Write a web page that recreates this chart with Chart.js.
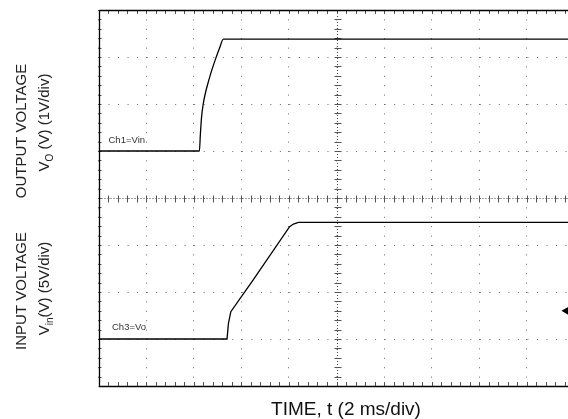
<!DOCTYPE html>
<html><head><meta charset="utf-8">
<script src="https://cdn.jsdelivr.net/npm/chart.js@4.4.1/dist/chart.umd.min.js"></script>
<style>html,body{margin:0;padding:0;background:#fff;overflow:hidden;width:568px;height:419px}canvas{display:block}</style>
</head><body><canvas id="c" width="580" height="419"></canvas>
<script>
// ---- data (read from the scope capture) ----
// time axis in ms: 2 ms/div, 10 divisions
const timeMin = 0, timeMax = 20, timeStep = 2;
// grid: 8 vertical divisions
const divMin = 0, divMax = 8;
// upper trace (Ch1, 1 V/div, ground at division 5)
const ch1Time  = [0, 4.24, 4.28, 4.33, 4.40, 4.50, 4.62, 4.76, 4.92, 5.08, 5.25, 20];
const ch1Volts = [0, 0,    0.35, 0.72, 1.00, 1.25, 1.48, 1.72, 1.96, 2.18, 2.38, 2.38];
// lower trace (Ch3, 5 V/div, ground at division 1)
const ch3Time  = [0, 5.40, 5.46, 5.56, 6.50, 8.03, 8.19, 8.40, 20];
const ch3Volts = [0, 0,    1.67, 2.90, 6.30, 11.95, 12.23, 12.41, 12.41];
// trigger level marker (Ch3)
const trigTime = [19.64];
const trigVolts = [3.0];
// text
const ch1Label = 'Ch1=Vin';
const ch3Label = 'Ch3=Vo';
const xTitle = 'TIME, t (2 ms/div)';
const upperTitle1 = [['OUTPUT VOLTAGE', false]];
const upperTitle2 = [['V', false], ['O', true], [' (V) (1V/div)', false]];
const lowerTitle1 = [['INPUT VOLTAGE', false]];
const lowerTitle2 = [['V', false], ['in', true], ['(V) (5V/div)', false]];

const FONT = '"Liberation Sans", Arial, sans-serif';

function toXY(xs, ys){ return xs.map((v,i)=>({x:v, y:ys[i]})); }

function drawRot(ctx, parts, xBase, yCenter, size, color){
  ctx.save();
  ctx.translate(xBase, yCenter);
  ctx.rotate(-Math.PI/2);
  ctx.fillStyle = color;
  ctx.textAlign = 'left'; ctx.textBaseline = 'alphabetic';
  const fMain = size + 'px ' + FONT, fSub = Math.round(size*0.68) + 'px ' + FONT;
  let total = 0; const ws = [];
  parts.forEach(p => { ctx.font = p[1] ? fSub : fMain; const w = ctx.measureText(p[0]).width; ws.push(w); total += w; });
  let u = -total/2;
  parts.forEach((p,i) => { ctx.font = p[1] ? fSub : fMain; ctx.fillText(p[0], u, p[1] ? size*0.28 : 0); u += ws[i]; });
  ctx.restore();
}

const scopePlugin = {
  id: 'scope',
  beforeDatasetsDraw(chart){
    const {ctx, chartArea:a, scales} = chart;
    const x = scales.x, y = scales.y;
    const px = v => Math.round(v) + 0.5;
    ctx.save();
    const cx = px(x.getPixelForValue((timeMin+timeMax)/2));
    const cy = px(y.getPixelForValue((divMin+divMax)/2));
    // dense dotted centre lines
    ctx.lineWidth = 1; ctx.strokeStyle = '#444';
    ctx.setLineDash([1,2]);
    ctx.beginPath();
    ctx.moveTo(cx, a.top); ctx.lineTo(cx, a.bottom);
    ctx.moveTo(a.left, cy); ctx.lineTo(a.right, cy);
    ctx.stroke();
    ctx.setLineDash([]);
    // minor ticks (5 per division)
    ctx.strokeStyle = '#555';
    ctx.beginPath();
    for (let i = 0; i <= 50; i++){
      const xx = px(x.getPixelForValue(timeMin + i*timeStep/5));
      ctx.moveTo(xx, cy-3); ctx.lineTo(xx, cy+4);
      ctx.moveTo(xx, a.top); ctx.lineTo(xx, a.top+4);
      ctx.moveTo(xx, a.bottom-4); ctx.lineTo(xx, a.bottom);
    }
    for (let i = 0; i <= 40; i++){
      const yy = px(y.getPixelForValue(divMin + i*0.2));
      ctx.moveTo(cx-3, yy); ctx.lineTo(cx+4, yy);
      ctx.moveTo(a.left, yy); ctx.lineTo(a.left+3, yy);
    }
    ctx.stroke();
    // frame
    ctx.strokeStyle = '#000'; ctx.lineWidth = 1.3;
    ctx.beginPath();
    ctx.moveTo(px(a.left), px(a.top)); ctx.lineTo(a.right, px(a.top));
    ctx.moveTo(px(a.left), px(a.top)); ctx.lineTo(px(a.left), px(a.bottom)); ctx.lineTo(a.right, px(a.bottom));
    ctx.stroke();
    // channel labels
    ctx.fillStyle = '#333'; ctx.font = '9.5px ' + FONT; ctx.textAlign = 'left'; ctx.textBaseline = 'alphabetic';
    ctx.fillText(ch1Label, a.left + 10, y.getPixelForValue(5) - 8.5);
    ctx.fillText(ch3Label, a.left + 13.5, y.getPixelForValue(1) - 9);
    ctx.restore();
  },
  afterDraw(chart){
    const {ctx} = chart;
    drawRot(ctx, upperTitle1, 26, 131, 15, '#222');
    drawRot(ctx, upperTitle2, 48.5, 122.5, 15, '#222');
    drawRot(ctx, lowerTitle1, 26, 291, 15, '#222');
    drawRot(ctx, lowerTitle2, 48.5, 288.5, 15, '#222');
    ctx.save();
    ctx.fillStyle = '#111'; ctx.font = '19px ' + FONT; ctx.textAlign = 'center'; ctx.textBaseline = 'alphabetic';
    ctx.fillText(xTitle, 346, 414.5);
    ctx.restore();
  }
};

new Chart(document.getElementById('c'), {
  type: 'line',
  data: {
    datasets: [
      { label: 'Ch1', data: toXY(ch1Time, ch1Volts), yAxisID: 'y1', borderColor: '#000', borderWidth: 1.3,
        pointRadius: 0, cubicInterpolationMode: 'monotone', fill: false },
      { label: 'Ch3', data: toXY(ch3Time, ch3Volts), yAxisID: 'y3', borderColor: '#000', borderWidth: 1.3,
        pointRadius: 0, tension: 0, fill: false },
      { label: 'Trig', data: toXY(trigTime, trigVolts), yAxisID: 'y3', showLine: false,
        pointStyle: 'triangle', rotation: -90, pointRadius: 4.5, pointBackgroundColor: '#000', pointBorderColor: '#000', pointBorderWidth: 0 }
    ]
  },
  options: {
    responsive: false, animation: false, devicePixelRatio: 1,
    layout: { padding: { left: 98.5, top: 10, right: 5.5, bottom: 33 } },
    plugins: { legend: { display: false }, tooltip: { enabled: false } },
    scales: {
      x: { type: 'linear', min: timeMin, max: timeMax,
           ticks: { display: false, stepSize: timeStep },
           grid: { color: '#6a6a6a', lineWidth: 1, drawTicks: false },
           border: { display: false, dash: [1, 8.4] } },
      y: { type: 'linear', min: divMin, max: divMax,
           ticks: { display: false, stepSize: 1 },
           grid: { color: '#6a6a6a', lineWidth: 1, drawTicks: false },
           border: { display: false, dash: [1, 8.52] } },
      y1: { type: 'linear', display: false, min: -5, max: 3 },
      y3: { type: 'linear', display: false, min: -5, max: 35 }
    }
  },
  plugins: [scopePlugin]
});
</script>
</body></html>
